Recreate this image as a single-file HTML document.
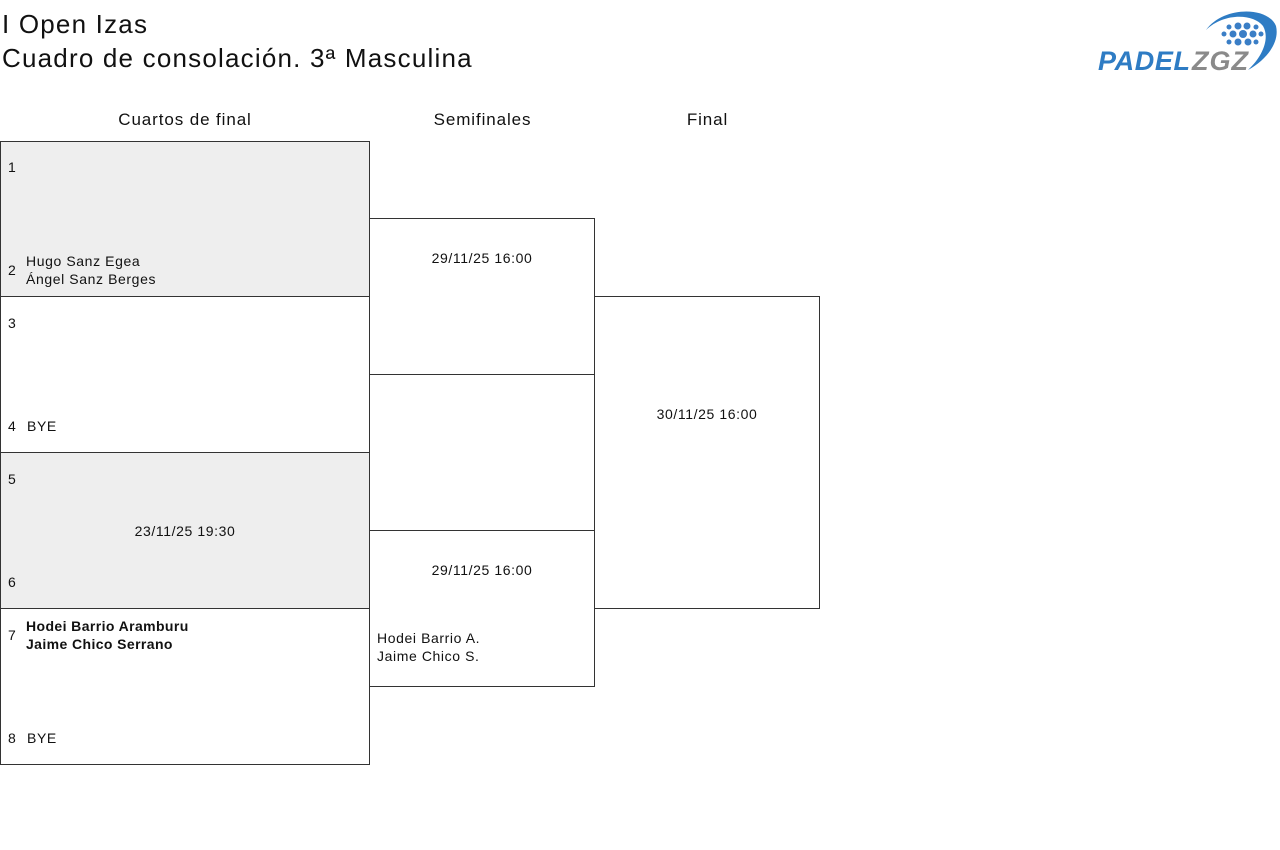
<!DOCTYPE html>
<html><head><meta charset="utf-8"><style>
body{margin:0;width:1280px;height:850px;background:#fff;font-family:"Liberation Sans",sans-serif;color:#111;position:relative;overflow:hidden}
.a{position:absolute;white-space:nowrap}
.b{position:absolute;border:1px solid #333;box-sizing:border-box}
.t{font-size:26px;line-height:34px;letter-spacing:1.2px}
.h{font-size:17px;letter-spacing:0.9px}
.s{font-size:14px;line-height:18px;letter-spacing:0.6px}
</style></head><body>
<div class="a t" style="left:2px;top:7px">I Open Izas</div>
<div class="a t" style="left:2px;top:41px">Cuadro de consolación. 3ª Masculina</div>
<svg class="a" style="left:1098px;top:8px" width="180" height="66">
<path d="M108 22 C125 -2 170 -2 178 18 C182 35 168 52 150 62 C165 48 172 30 165 18 C155 5 125 5 108 22Z" fill="#2e7cc4"/>
<g fill="#3a7ec6">
<circle cx="140" cy="18" r="3.5"/><circle cx="149" cy="18" r="3.5"/><circle cx="131" cy="19" r="2.5"/><circle cx="158" cy="19" r="2.5"/>
<circle cx="126" cy="26" r="2.5"/><circle cx="135" cy="26" r="3.5"/><circle cx="145" cy="26" r="4"/><circle cx="155" cy="26" r="3.5"/><circle cx="163" cy="26" r="2.5"/>
<circle cx="131" cy="34" r="2.5"/><circle cx="140" cy="34" r="3.5"/><circle cx="150" cy="34" r="3.5"/><circle cx="158" cy="34" r="2.5"/>
</g>
<text x="0" y="62" font-family="Liberation Sans" font-weight="bold" font-style="italic" font-size="27" fill="#2e7cc4" textLength="92">PADEL</text>
<text x="94" y="62" font-family="Liberation Sans" font-weight="bold" font-style="italic" font-size="27" fill="#8a8a8a" textLength="56">ZGZ</text>
</svg>
<div class="a h" style="left:0;width:370px;top:110px;text-align:center">Cuartos de final</div>
<div class="a h" style="left:370px;width:225px;top:110px;text-align:center">Semifinales</div>
<div class="a h" style="left:595px;width:225px;top:110px;text-align:center">Final</div>

<div class="b" style="left:0;top:141px;width:370px;height:156px;background:#eee"></div>
<div class="b" style="left:0;top:296px;width:370px;height:157px"></div>
<div class="b" style="left:0;top:452px;width:370px;height:157px;background:#eee"></div>
<div class="b" style="left:0;top:608px;width:370px;height:157px"></div>
<div class="b" style="left:369px;top:218px;width:226px;height:157px"></div>
<div class="b" style="left:369px;top:530px;width:226px;height:157px"></div>
<div class="b" style="left:594px;top:296px;width:226px;height:313px"></div>

<div class="a s" style="left:8px;top:158px">1</div>
<div class="a s" style="left:8px;top:261px">2</div>
<div class="a s" style="left:26px;top:252px">Hugo Sanz Egea<br>Ángel Sanz Berges</div>
<div class="a s" style="left:8px;top:314px">3</div>
<div class="a s" style="left:8px;top:417px">4</div>
<div class="a s" style="left:27px;top:417px">BYE</div>
<div class="a s" style="left:8px;top:470px">5</div>
<div class="a s" style="left:0;width:370px;text-align:center;top:522px">23/11/25 19:30</div>
<div class="a s" style="left:8px;top:573px">6</div>
<div class="a s" style="left:8px;top:626px">7</div>
<div class="a s" style="left:26px;top:617px;font-weight:bold;letter-spacing:0.4px">Hodei Barrio Aramburu<br>Jaime Chico Serrano</div>
<div class="a s" style="left:8px;top:729px">8</div>
<div class="a s" style="left:27px;top:729px">BYE</div>

<div class="a s" style="left:370px;width:224px;text-align:center;top:249px">29/11/25 16:00</div>
<div class="a s" style="left:370px;width:224px;text-align:center;top:561px">29/11/25 16:00</div>
<div class="a s" style="left:377px;top:629px">Hodei Barrio A.<br>Jaime Chico S.</div>
<div class="a s" style="left:595px;width:224px;text-align:center;top:405px">30/11/25 16:00</div>
</body></html>
